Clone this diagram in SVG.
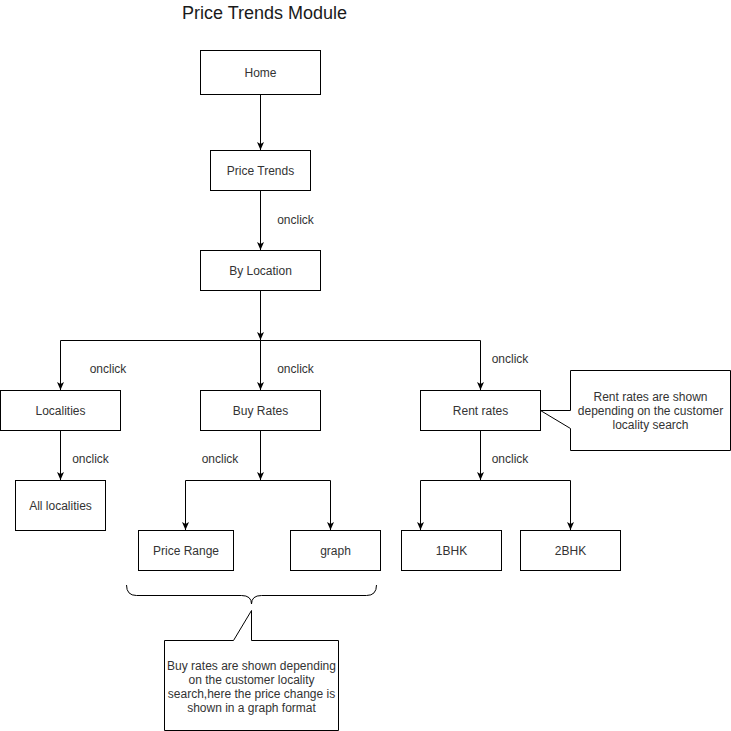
<svg xmlns="http://www.w3.org/2000/svg" width="731" height="731" viewBox="0 0 731 731">
<style>
  .box { fill: #ffffff; stroke: #000000; stroke-width: 1; }
  .lbl { font-family: "Liberation Sans", Arial, sans-serif; font-size: 12px; fill: #333333; text-anchor: middle; }
  .title { font-family: "Liberation Sans", Arial, sans-serif; font-size: 18px; fill: #1a1a1a; text-anchor: middle; }
  .edge { fill: none; stroke: #000000; stroke-width: 1; }
  .arr { marker-end: url(#arrow); }
</style>
<defs>
  <marker id="arrow" markerWidth="8" markerHeight="8" refX="8" refY="3.5" orient="auto" markerUnits="userSpaceOnUse">
    <path d="M0,0 L8,3.5 L0,7 L2,3.5 Z" fill="#000000" stroke="none"/>
  </marker>
</defs>
<rect width="731" height="731" fill="#ffffff"/>

<text class="title" x="264.5" y="19">Price Trends Module</text>

<g id="connectors">
  <path class="edge arr" d="M260.5,94.5 V150"/>
  <path class="edge arr" d="M260.5,190.5 V250"/>
  <path class="edge arr" d="M260.5,290.5 V340"/>
  <path class="edge" d="M60.5,340.5 H480.5"/>
  <path class="edge arr" d="M60.5,340.5 V390"/>
  <path class="edge arr" d="M260.5,340.5 V390"/>
  <path class="edge arr" d="M480.5,340.5 V390"/>
  <path class="edge arr" d="M60.5,430.5 V480"/>
  <path class="edge arr" d="M260.5,430.5 V480"/>
  <path class="edge" d="M185.5,480.5 H330.5"/>
  <path class="edge arr" d="M185.5,480.5 V530"/>
  <path class="edge arr" d="M330.5,480.5 V530"/>
  <path class="edge arr" d="M480.5,430.5 V480"/>
  <path class="edge" d="M420.5,480.5 H570.5"/>
  <path class="edge arr" d="M420.5,480.5 V530"/>
  <path class="edge arr" d="M570.5,480.5 V530"/>
  <text class="lbl" x="295.5" y="224">onclick</text>
  <text class="lbl" x="108" y="373">onclick</text>
  <text class="lbl" x="295.5" y="373">onclick</text>
  <text class="lbl" x="510" y="363">onclick</text>
  <text class="lbl" x="90.5" y="463">onclick</text>
  <text class="lbl" x="220" y="463">onclick</text>
  <text class="lbl" x="510" y="463">onclick</text>
</g>

<g id="home"><rect class="box" x="200.5" y="50.5" width="120" height="44"/><text class="lbl" x="260.5" y="76.5">Home</text></g>
<g id="price-trends"><rect class="box" x="210.5" y="150.5" width="100" height="40"/><text class="lbl" x="260.5" y="174.5">Price Trends</text></g>
<g id="by-location"><rect class="box" x="200.5" y="250.5" width="120" height="40"/><text class="lbl" x="260.5" y="274.5">By Location</text></g>
<g id="localities"><rect class="box" x="0.5" y="390.5" width="120" height="40"/><text class="lbl" x="60.5" y="414.5">Localities</text></g>
<g id="buy-rates"><rect class="box" x="200.5" y="390.5" width="120" height="40"/><text class="lbl" x="260.5" y="414.5">Buy Rates</text></g>
<g id="rent-rates"><rect class="box" x="420.5" y="390.5" width="120" height="40"/><text class="lbl" x="480.5" y="414.5">Rent rates</text></g>
<g id="all-localities"><rect class="box" x="15.5" y="480.5" width="90" height="50"/><text class="lbl" x="60.5" y="509.5">All localities</text></g>
<g id="price-range"><rect class="box" x="138.5" y="530.5" width="95" height="40"/><text class="lbl" x="186" y="554.5">Price Range</text></g>
<g id="graph"><rect class="box" x="290.5" y="530.5" width="90" height="40"/><text class="lbl" x="335.5" y="554.5">graph</text></g>
<g id="bhk1"><rect class="box" x="401.5" y="530.5" width="100" height="40"/><text class="lbl" x="451.5" y="554.5">1BHK</text></g>
<g id="bhk2"><rect class="box" x="520.5" y="530.5" width="100" height="40"/><text class="lbl" x="570.5" y="554.5">2BHK</text></g>

<g id="rent-callout">
  <path class="box" d="M570.5,370.5 H730.5 V450.5 H570.5 V428.5 L540.5,410.5 H570.5 Z"/>
  <text class="lbl" x="650.5" y="401">Rent rates are shown</text>
  <text class="lbl" x="650.5" y="415">depending on the customer</text>
  <text class="lbl" x="650.5" y="429">locality search</text>
</g>

<g id="brace">
  <path class="edge" d="M126.5,585 Q126.5,595.5 136.5,595.5 H241.5 Q251.5,595.5 251.5,604 Q251.5,595.5 261.5,595.5 H366.5 Q376.5,595.5 376.5,585"/>
</g>

<g id="buy-callout">
  <path class="box" d="M164.5,640.5 H233.5 L251.5,610.5 V640.5 H338.5 V730.5 H164.5 Z"/>
  <text class="lbl" x="251.5" y="670">Buy rates are shown depending</text>
  <text class="lbl" x="251.5" y="684">on the customer locality</text>
  <text class="lbl" x="251.5" y="698">search,here the price change is</text>
  <text class="lbl" x="251.5" y="712">shown in a graph format</text>
</g>
</svg>
